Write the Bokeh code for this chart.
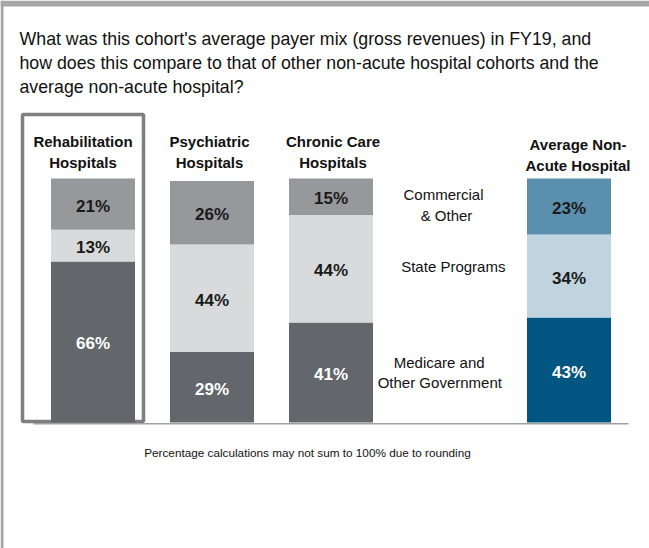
from bokeh.plotting import figure
from bokeh.models import ColumnDataSource, BoxAnnotation, Range1d
from bokeh.core.properties import value
from bokeh.embed import file_html
from bokeh.resources import INLINE

# ---------------- data ----------------
cohorts = ["Rehabilitation\nHospitals", "Psychiatric\nHospitals",
           "Chronic Care\nHospitals", "Average Non-\nAcute Hospital"]
cohort_pos = [0, 1, 2, 4]
payers = ["Commercial\n& Other", "State Programs", "Medicare and\nOther Government"]
medicare = [66, 29, 41, 43]
state = [13, 44, 44, 34]
commercial = [21, 26, 15, 23]
title_lines = ["What was this cohort's average payer mix (gross revenues) in FY19, and",
               "how does this compare to that of other non-acute hospital cohorts and the",
               "average non-acute hospital?"]
footnote = "Percentage calculations may not sum to 100% due to rounding"

# ---------------- layout ----------------
W, H = 649, 548
XS = 119.0      # px per category slot
X0 = 92.5       # px of category 0
YS = 2.44       # px per percent
Y0 = 422.0      # px (from top) of 0 %

def px_x(px):
    return (px - X0) / XS

def px_y(px):
    return (Y0 - px) / YS

SANS = "Liberation Sans"
DARK = "#111111"

p = figure(width=W, height=H, output_backend="svg", toolbar_location=None,
           x_range=Range1d(px_x(0), px_x(W)), y_range=Range1d(px_y(H), px_y(0)),
           x_axis_location=None, y_axis_location=None, min_border=0,
           margin=0)
p.outline_line_color = None
p.background_fill_color = "white"
p.border_fill_color = "white"
p.grid.visible = False

# page frame strips
p.add_layout(BoxAnnotation(bottom=px_y(6), fill_color="#a6a6a6", fill_alpha=1,
                           line_color=None, level="underlay"))
p.add_layout(BoxAnnotation(right=px_x(3), fill_color="#a6a6a6", fill_alpha=1,
                           line_color=None, level="underlay"))

# highlight box around the cohort
p.add_layout(BoxAnnotation(left=px_x(22), right=px_x(143), top=px_y(114),
                           bottom=px_y(421), fill_alpha=0, line_color="#7f7f7f",
                           line_alpha=1, line_width=3.5, level="underlay"))

# baseline
p.segment(x0=[px_x(33)], x1=[px_x(628)], y0=[px_y(423.3)], y1=[px_y(423.3)],
          line_color="#a0a0a0", line_width=1.6)

gray = ["#63666a", "#d9dadc", "#97989b"]
blue = ["#005581", "#bfd4df", "#5a8fae"]
txt_dark = "#1a1a1a"

bw = 84 / XS
series = [medicare, state, commercial]
for k, vals in enumerate(series):
    bottoms, tops, cols, tcols, labels, mids = [], [], [], [], [], []
    for i in range(len(cohorts)):
        b = sum(s[i] for s in series[:k])
        t = b + vals[i]
        bottoms.append(b)
        tops.append(t)
        mids.append((b + t) / 2)
        pal = blue if i == 3 else gray
        cols.append(pal[k])
        tcols.append("white" if k == 0 else txt_dark)
        labels.append(f"{vals[i]}%")
    src = ColumnDataSource(dict(x=cohort_pos, b=bottoms, t=tops, c=cols,
                                tc=tcols, lab=labels, m=mids))
    p.vbar(x="x", bottom="b", top="t", width=bw, fill_color="c",
           line_color=None, source=src)
    p.text(x="x", y="m", text="lab", text_color="tc", text_font=value(SANS),
           text_font_style="bold", text_font_size="17px", text_align="center",
           text_baseline="middle", y_offset=2, source=src)


def put_text(xs, ys, texts, size, bold=False, align="center", x_off=None):
    src = ColumnDataSource(dict(x=xs, y=ys, t=texts,
                                xo=x_off if x_off is not None else [0] * len(xs)))
    p.text(x="x", y="y", text="t", x_offset="xo", source=src,
           text_font=value(SANS), text_font_size=size,
           text_font_style="bold" if bold else "normal", text_color=DARK,
           text_align=align, text_baseline="middle")


# headers (vertical centres of the lines)
hx_off = [-10, -2.5, 2, 9]
hy_off = [0, 0, 0, 3]
hx, hy, ht, ho = [], [], [], []
for i, lab in enumerate(cohorts):
    for j, line in enumerate(lab.split("\n")):
        hx.append(cohort_pos[i])
        hy.append(px_y(141.2 + 21 * j + hy_off[i]))
        ht.append(line)
        ho.append(hx_off[i])
put_text(hx, hy, ht, "15px", bold=True, x_off=ho)

# payer labels
leg_x = [[443, 446], [452.8], [438.7, 439.3]]
leg_y = [[193.7, 214.5], [265.5], [361.7, 382]]
lx, ly, lt = [], [], []
for k, lab in enumerate(payers):
    for j, line in enumerate(lab.split("\n")):
        lx.append(px_x(leg_x[k][j]))
        ly.append(px_y(leg_y[k][j]))
        lt.append(line)
put_text(lx, ly, lt, "15px")

# title
put_text([px_x(19)] * 3, [px_y(38 + 24 * j) for j in range(3)],
         title_lines, "17.75px", align="left")

# footnote
put_text([px_x(307)], [px_y(452)], [footnote], "11.75px")

open("out.html", "w").write(file_html(p, INLINE))
